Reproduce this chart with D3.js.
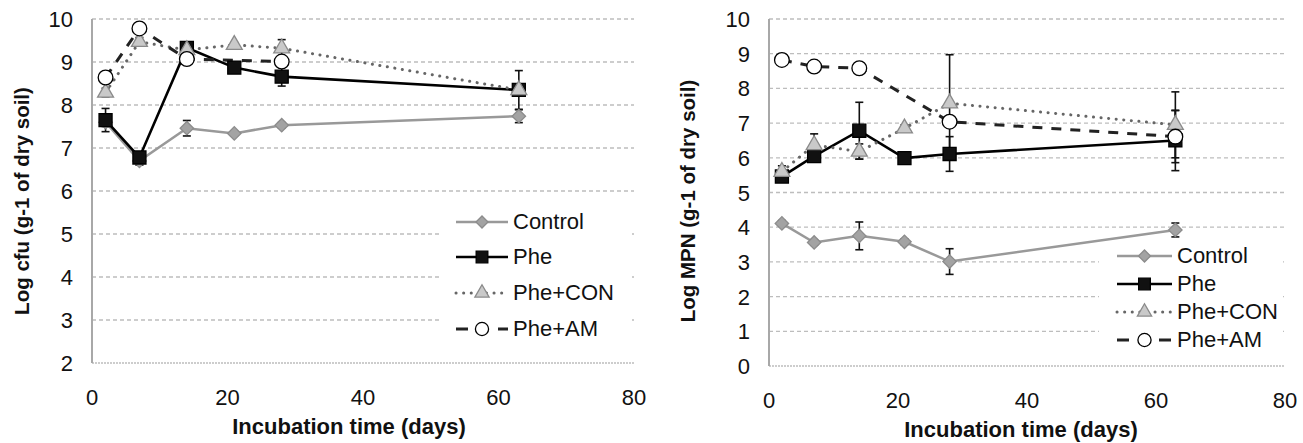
<!doctype html>
<html lang="en">
<head>
    <meta charset="UTF-8">
    <title>Log cfu / Log MPN</title>
    <script src="https://cdn.jsdelivr.net/npm/d3@7"></script>
    <style>
        body { margin: 0; background: #fff; }
        text { font-family: "Liberation Sans", Arial, sans-serif; fill: #111; }
    </style>
</head>
<body>
<div class="canvas"></div>
<script>
  // sampling days (x)
  const days = [2, 7, 14, 21, 28, 63];
  const seriesNames = ['Control', 'Phe', 'Phe+CON', 'Phe+AM'];
  const xTicks = [0, 20, 40, 60, 80];

  // left panel : Log cfu
  const cfuTicks = [2, 3, 4, 5, 6, 7, 8, 9, 10];
  const cfuControl = [7.6, 6.7, 7.46, 7.34, 7.53, 7.74];
  const cfuControlErr = [0.1, 0.1, 0.18, 0.05, 0.06, 0.15];
  const cfuPhe = [7.65, 6.78, 9.33, 8.87, 8.66, 8.35];
  const cfuPheErr = [0.27, 0.1, 0.1, 0.1, 0.22, 0.45];
  const cfuPheCon = [8.29, 9.47, 9.28, 9.4, 9.32, 8.35];
  const cfuPheConErr = [0.1, 0.1, 0.05, 0.05, 0.2, 0.1];
  const cfuPheAm = [8.64, 9.78, 9.07, null, 9.01, null];
  const cfuPheAmErr = [0.05, 0.05, 0.05, null, 0.05, null];

  // right panel : Log MPN
  const mpnTicks = [0, 1, 2, 3, 4, 5, 6, 7, 8, 9, 10];
  const mpnControl = [4.11, 3.56, 3.75, 3.58, 3.01, 3.92];
  const mpnControlErr = [0.08, 0.08, 0.4, 0.08, 0.37, 0.2];
  const mpnPhe = [5.46, 6.05, 6.78, 5.99, 6.11, 6.5];
  const mpnPheErr = [0.15, 0.1, 0.82, 0.1, 0.5, 0.87];
  const mpnPheCon = [5.6, 6.37, 6.18, 6.85, 7.57, 6.95];
  const mpnPheConErr = [0.17, 0.32, 0.22, 0.1, 1.4, 0.95];
  const mpnPheAm = [8.82, 8.63, 8.58, null, 7.04, 6.61];
  const mpnPheAmErr = [0.05, 0.05, 0.12, null, 0.1, 0.75];

  const styles = {
    'Control': { line: '#999', width: 2.5, dash: null, sym: d3.symbolSquare, rot: 45, size: 90, fill: '#a3a3a3', stroke: '#8c8c8c' },
    'Phe': { line: '#000', width: 2.6, dash: null, sym: d3.symbolSquare, rot: 0, size: 170, fill: '#111', stroke: '#000' },
    'Phe+CON': { line: '#666', width: 3, dash: '0.1,7.5', sym: d3.symbolTriangle, rot: 0, size: 110, fill: '#c9c9c9', stroke: '#8a8a8a' },
    'Phe+AM': { line: '#222', width: 3, dash: '10,9', sym: d3.symbolCircle, rot: 0, size: 170, fill: '#fff', stroke: '#000' }
  };

  const svg = d3.select('.canvas').append('svg')
    .attr('width', 1303)
    .attr('height', 443);

  function drawPanel(p) {
    const x = d3.scaleLinear().domain([0, 80]).range([p.left, p.right]);
    const y = d3.scaleLinear().domain(d3.extent(p.yTicks)).range([p.bottom, p.top]);
    const g = svg.append('g');

    // gridlines
    g.selectAll('line.grid')
      .data(p.yTicks)
      .enter().append('line')
      .attr('x1', x(0)).attr('x2', x(80))
      .attr('y1', d => y(d)).attr('y2', d => y(d))
      .attr('stroke', '#bdbdbd')
      .attr('stroke-width', 1.3)
      .attr('stroke-dasharray', d => d === p.yTicks[0] ? '2,1' : '4,3');

    // y axis
    g.append('line')
      .attr('x1', x(0)).attr('x2', x(0))
      .attr('y1', y(p.yTicks[0])).attr('y2', y(p.yTicks[p.yTicks.length - 1]))
      .attr('stroke', '#a8a8a8')
      .attr('stroke-width', 2);

    // tick labels
    g.selectAll('text.yt')
      .data(p.yTicks)
      .enter().append('text')
      .attr('x', x(0) - 19)
      .attr('y', d => y(d) + 8)
      .attr('text-anchor', 'end')
      .style('font-size', '22px')
      .text(d => d);

    g.selectAll('text.xt')
      .data(xTicks)
      .enter().append('text')
      .attr('x', d => x(d))
      .attr('y', p.bottom + 42)
      .attr('text-anchor', 'middle')
      .style('font-size', '22px')
      .text(d => d);

    // titles
    g.append('text')
      .attr('x', p.xTitleX)
      .attr('y', p.xTitleY)
      .attr('text-anchor', 'middle')
      .style('font-size', '22px')
      .style('font-weight', 'bold')
      .text('Incubation time (days)');

    g.append('text')
      .attr('transform', `translate(${p.yTitleX}, 201) rotate(-90)`)
      .attr('text-anchor', 'middle')
      .style('font-size', '20.5px')
      .style('font-weight', 'bold')
      .text(p.yTitle);

    // legend box (covers gridlines)
    const lg = p.legend;
    g.append('rect')
      .attr('x', lg.x).attr('y', lg.y)
      .attr('width', lg.w).attr('height', lg.h)
      .attr('fill', '#fff');

    const series = seriesNames.map((name, i) => ({
      name,
      pts: days.map((d, j) => ({ d, v: p.values[i][j], e: p.errors[i][j] })).filter(o => o.v != null)
    }));

    const line = d3.line().x(o => x(o.d)).y(o => y(o.v));

    // lines
    series.forEach(s => {
      const st = styles[s.name];
      g.append('path')
        .datum(s.pts)
        .attr('d', line)
        .attr('fill', 'none')
        .attr('stroke', st.line)
        .attr('stroke-width', st.width)
        .attr('stroke-linecap', st.dash && st.dash.startsWith('0.1') ? 'round' : 'butt')
        .attr('stroke-dasharray', st.dash);
    });

    // error bars
    series.forEach(s => {
      const eg = g.append('g').attr('stroke', '#111').attr('stroke-width', 1.6);
      s.pts.forEach(o => {
        const cx = x(o.d);
        const y1 = y(o.v + o.e), y2 = y(o.v - o.e);
        eg.append('line').attr('x1', cx).attr('x2', cx).attr('y1', y1).attr('y2', y2);
        eg.append('line').attr('x1', cx - 4).attr('x2', cx + 4).attr('y1', y1).attr('y2', y1);
        eg.append('line').attr('x1', cx - 4).attr('x2', cx + 4).attr('y1', y2).attr('y2', y2);
      });
    });

    // markers
    series.forEach(s => {
      const st = styles[s.name];
      g.selectAll(null)
        .data(s.pts)
        .enter().append('path')
        .attr('d', d3.symbol().type(st.sym).size(st.size))
        .attr('transform', o => `translate(${x(o.d)}, ${y(o.v)}) rotate(${st.rot})`)
        .attr('fill', st.fill)
        .attr('stroke', st.stroke)
        .attr('stroke-width', 1.3);
    });

    // legend entries
    seriesNames.forEach((name, i) => {
      const st = styles[name];
      const by = lg.baselines[i];
      const ly = by - 7;
      g.append('line')
        .attr('x1', lg.lineX1).attr('x2', lg.lineX2)
        .attr('y1', ly).attr('y2', ly)
        .attr('stroke', st.line)
        .attr('stroke-width', st.width)
        .attr('stroke-linecap', st.dash && st.dash.startsWith('0.1') ? 'round' : 'butt')
        .attr('stroke-dasharray', name === 'Phe+AM' ? '12,30' : st.dash);
      g.append('path')
        .attr('d', d3.symbol().type(st.sym).size(st.size * 0.8))
        .attr('transform', `translate(${(lg.lineX1 + lg.lineX2) / 2}, ${ly}) rotate(${st.rot})`)
        .attr('fill', st.fill)
        .attr('stroke', st.stroke)
        .attr('stroke-width', 1.3);
      g.append('text')
        .attr('x', lg.textX)
        .attr('y', by)
        .style('font-size', '22px')
        .text(name);
    });
  }

  drawPanel({
    left: 92, right: 634, top: 19, bottom: 363,
    yTicks: cfuTicks,
    values: [cfuControl, cfuPhe, cfuPheCon, cfuPheAm],
    errors: [cfuControlErr, cfuPheErr, cfuPheConErr, cfuPheAmErr],
    yTitle: 'Log cfu (g-1 of dry soil)', yTitleX: 29,
    xTitleX: 349, xTitleY: 434,
    legend: { x: 440, y: 200, w: 192, h: 150, lineX1: 456, lineX2: 508, textX: 513, baselines: [229, 264, 300, 336] }
  });

  drawPanel({
    left: 769, right: 1285, top: 19, bottom: 366,
    yTicks: mpnTicks,
    values: [mpnControl, mpnPhe, mpnPheCon, mpnPheAm],
    errors: [mpnControlErr, mpnPheErr, mpnPheConErr, mpnPheAmErr],
    yTitle: 'Log MPN (g-1 of dry soil)', yTitleX: 695,
    xTitleX: 1021, xTitleY: 437,
    legend: { x: 1099, y: 240, w: 184, h: 115, lineX1: 1117, lineX2: 1172, textX: 1177, baselines: [263, 291, 319, 347] }
  });
</script>
</body>
</html>
